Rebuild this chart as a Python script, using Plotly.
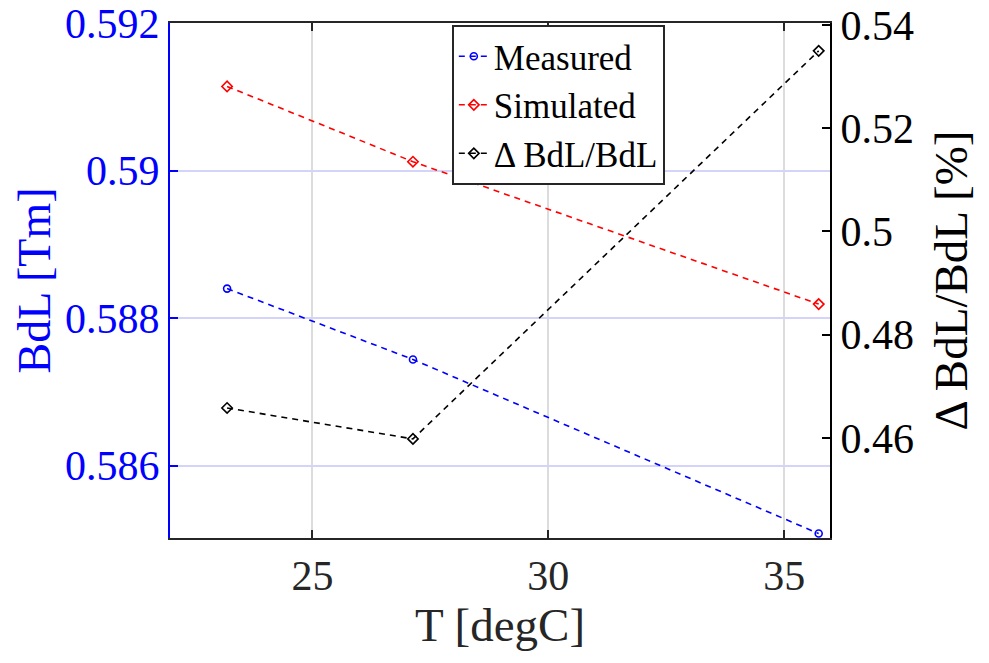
import plotly.graph_objects as go

T = [23.19, 27.13, 35.73]
measured = [0.58840, 0.58744, 0.58508]
simulated = [0.59114, 0.59012, 0.58819]
delta = [0.4658, 0.4598, 0.5350]

x_ticks = [25, 30, 35]
left_ticks = [0.586, 0.588, 0.590, 0.592]
left_labels = ["0.586", "0.588", "0.59", "0.592"]
right_ticks = [0.46, 0.48, 0.50, 0.52, 0.54]
right_labels = ["0.46", "0.48", "0.5", "0.52", "0.54"]

FONT = "Liberation Serif, Times New Roman, serif"
BLUE = "#0000ff"
DARK = "#262626"

fig = go.Figure()
fig.add_trace(go.Scatter(x=T, y=measured, name="Measured", mode="lines+markers",
                         line=dict(color=BLUE, width=1.6, dash="6px,5px"),
                         marker=dict(symbol="circle-open", size=7, color=BLUE, line=dict(width=1.6))))
fig.add_trace(go.Scatter(x=T, y=simulated, name="Simulated", mode="lines+markers",
                         line=dict(color="#ff0000", width=1.6, dash="6px,5px"),
                         marker=dict(symbol="diamond-open", size=8, color="#ff0000", line=dict(width=1.6))))
fig.add_trace(go.Scatter(x=T, y=delta, name="Δ BdL/BdL", mode="lines+markers", yaxis="y2",
                         line=dict(color="#000000", width=1.6, dash="6px,5px"),
                         marker=dict(symbol="diamond-open", size=8, color="#000000", line=dict(width=1.6))))

fig.update_layout(
    width=989, height=663, autosize=False,
    margin=dict(l=170, r=159, t=23, b=125),
    paper_bgcolor="white", plot_bgcolor="white",
    font=dict(family=FONT, size=42, color=DARK),
    showlegend=True,
    legend=dict(x=0.427, y=0.996, xanchor="left", yanchor="top",
                bgcolor="white", bordercolor=DARK, borderwidth=2,
                font=dict(family=FONT, size=35, color="#000000"),
                tracegroupgap=0, itemwidth=30),
    xaxis=dict(range=[21.98, 35.97], tickvals=x_ticks, ticktext=[str(v) for v in x_ticks],
               showgrid=True, gridcolor="#dcdcdc", gridwidth=1.5, zeroline=False,
               showline=True, linecolor=DARK, linewidth=2, mirror="ticks", automargin=False,
               ticks="inside", ticklen=8, tickwidth=2, tickcolor=DARK,
               tickfont=dict(family=FONT, size=42, color=DARK),
               title=dict(text="T [degC]", font=dict(family=FONT, size=47, color=DARK), standoff=10)),
    yaxis=dict(range=[0.58502, 0.592], tickvals=left_ticks, ticktext=left_labels,
               showgrid=True, gridcolor="#d4d4fa", gridwidth=1.5, zeroline=False,
               showline=True, linecolor=BLUE, linewidth=2, ticklabeloverflow="allow", automargin=False,
               ticks="inside", ticklen=8, tickwidth=2, tickcolor=BLUE,
               tickfont=dict(family=FONT, size=42, color=BLUE),
               title=dict(text="BdL [Tm]", font=dict(family=FONT, size=46, color=BLUE), standoff=0)),
    yaxis2=dict(range=[0.4406, 0.5404], tickvals=right_ticks, ticktext=right_labels,
                overlaying="y", side="right", showgrid=False, zeroline=False,
                showline=True, linecolor="#000000", linewidth=2, ticklabeloverflow="allow", automargin=False,
                ticks="inside", ticklen=8, tickwidth=2, tickcolor="#000000",
                tickfont=dict(family=FONT, size=42, color="#000000"),
                title=dict(text="Δ BdL/BdL [%]", font=dict(family=FONT, size=47, color="#000000"), standoff=21)),
)

fig.write_html("out.html")
